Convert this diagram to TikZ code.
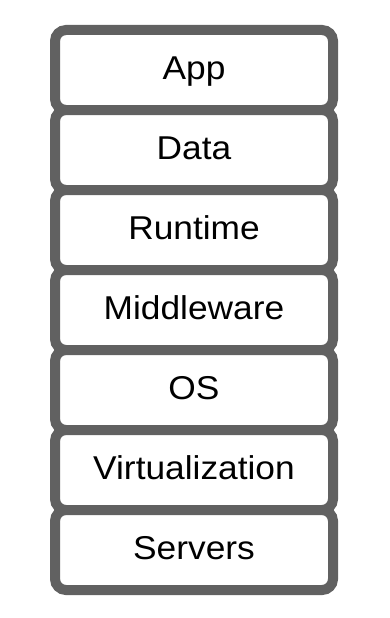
\documentclass[tikz,border=0pt]{standalone}
\usepackage{fontspec}
\setmainfont{Liberation Sans}
\newfontfamily\labfont[FakeStretch=1.07]{Liberation Sans}
\begin{document}
\begin{tikzpicture}[x=1pt,y=1pt,
  layer/.style={draw=black!62, line width=10pt, rounded corners=11pt, fill=white,
    minimum width=278pt, minimum height=80pt, inner sep=0pt,
    text height=25pt, text depth=6pt,
    font=\labfont\fontsize{33}{38}\selectfont, text=black}]
\useasboundingbox (0,0) rectangle (390,-618);
\node[layer] (app) at (194,-70) {App};
\node[layer] (data) at (194,-150) {Data};
\node[layer] (runtime) at (194,-230) {Runtime};
\node[layer] (middleware) at (194,-310) {Middleware};
\node[layer] (os) at (194,-390) {OS};
\node[layer] (virt) at (194,-470) {Virtualization};
\node[layer] (servers) at (194,-550) {Servers};
\end{tikzpicture}
\end{document}
